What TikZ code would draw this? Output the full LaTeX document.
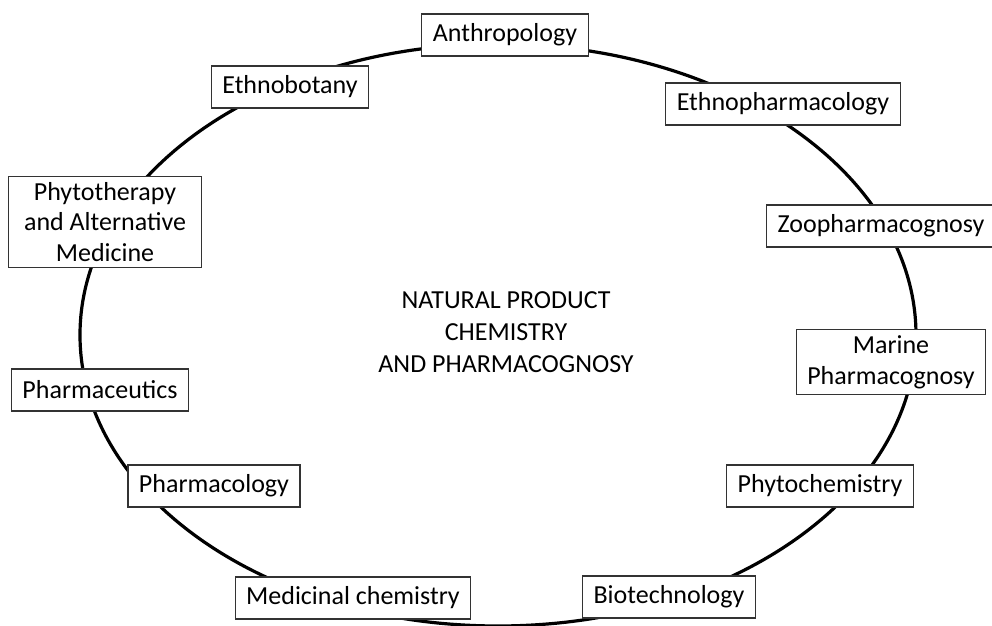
\documentclass[tikz,border=0pt]{standalone}
\usepackage{fontspec}
\setmainfont{Carlito}
\usepackage{tikz}
\usetikzlibrary{positioning}

\begin{document}
\begin{tikzpicture}[x=0.5pt, y=-0.5pt,
    field/.style={draw=black!80, line width=0.6pt, fill=white, inner xsep=5.5pt, inner ysep=3pt, minimum height=21pt, align=center},
    ring/.style={line width=1.6pt},
    title/.style={align=center, font=\fontsize{13}{16}\selectfont},
    every node/.style={font=\fontsize{13}{15.3}\selectfont}
    ]
\useasboundingbox (0,0) rectangle (992,626);
\clip (0,0) rectangle (992,626);
\coordinate (c) at (498,335);
\draw[ring] (c) ellipse [x radius=418, y radius=291];

\node[title] (npc) at (506,332) {NATURAL PRODUCT\\CHEMISTRY\\AND PHARMACOGNOSY};

\node[field] (anthro) at (505,35) {Anthropology};
\node[field] (ethnobot) at (290,87) {Ethnobotany};
\node[field] (ethnopharm) at (783,104) {Ethnopharmacology};
\node[field] (zoo) at (881,226) {Zoopharmacognosy};
\node[field] (marine) at (891,362) {Marine\\Pharmacognosy};
\node[field] (phytochem) at (820,486) {Phytochemistry};
\node[field] (biotech) at (669,597) {Biotechnology};
\node[field] (medchem) at (353,598) {Medicinal chemistry};
\node[field] (pharmacol) at (214,486) {Pharmacology};
\node[field] (pharmaceut) at (100,390) {Pharmaceutics};
\node[field, minimum width=96.5pt] (phytother) at (105,222) {Phytotherapy\\and Alternative\\Medicine};
\end{tikzpicture}
\end{document}
